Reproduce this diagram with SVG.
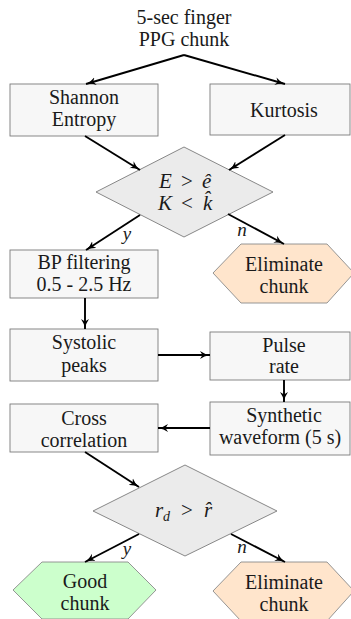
<svg xmlns="http://www.w3.org/2000/svg" width="351" height="619" viewBox="0 0 351 619" font-family="'Liberation Serif','DejaVu Serif',serif">
<style>
text{font-family:"Liberation Serif","DejaVu Serif",serif;font-size:20px;fill:#1a1a1a;text-anchor:middle}
.lbl{font-style:italic;font-size:19px}
.m{font-style:italic;text-anchor:start;font-size:21px}
.o{text-anchor:start;font-size:21px}
.box{fill:#f7f7f7;stroke:#7a7a7a;stroke-width:0.9}
.dia{fill:#ebebeb;stroke:#7a7a7a;stroke-width:0.9}
.bad{fill:#ffe5cc;stroke:#8a8a8a;stroke-width:0.9}
.good{fill:#ccffcc;stroke:#8a8a8a;stroke-width:0.9}
.arr{stroke:#000;stroke-width:1.9;fill:none;marker-end:url(#ah)}
</style>
<defs>
<marker id="ah" markerUnits="userSpaceOnUse" markerWidth="11" markerHeight="11" viewBox="0 0 11 11" refX="10" refY="5.5" orient="auto">
<path d="M0,1.5 Q4,4.5 10,5.5 Q4,6.5 0,9.5 L2.5,5.5 Z" fill="#000"/>
</marker>
</defs>
<g id="start">
<text x="184" y="24">5-sec finger</text>
<text x="184" y="46">PPG chunk</text>
</g>
<g id="shannon">
<rect class="box" x="10" y="84" width="148" height="52"/>
<text x="84" y="104">Shannon</text>
<text x="84" y="126">Entropy</text>
</g>
<g id="kurtosis">
<rect class="box" x="210" y="84" width="140" height="51"/>
<text x="284" y="117">Kurtosis</text>
</g>
<g id="decision1">
<polygon class="dia" points="184,147 273,192 184,237 96,192"/>
<text class="m" x="159" y="188">E</text>
<text class="o" x="181" y="188">&gt;</text>
<text class="m" x="202" y="188">ê</text>
<text class="m" x="158" y="210">K</text>
<text class="o" x="181" y="210">&lt;</text>
<text class="m" x="203" y="210">k̂</text>
</g>
<g id="bp">
<rect class="box" x="10" y="250" width="148" height="48"/>
<text x="84" y="269">BP filtering</text>
<text x="84" y="291">0.5 - 2.5 Hz</text>
</g>
<g id="elim1">
<polygon class="bad" points="241,244 327,244 354,273 327,303 241,303 213,273"/>
<text x="284" y="271">Eliminate</text>
<text x="284" y="293">chunk</text>
</g>
<g id="systolic">
<rect class="box" x="10" y="329" width="148" height="52"/>
<text x="84" y="349">Systolic</text>
<text x="84" y="372">peaks</text>
</g>
<g id="pulse">
<rect class="box" x="210" y="332" width="140" height="48"/>
<text x="284" y="352">Pulse</text>
<text x="284" y="373">rate</text>
</g>
<g id="synthetic">
<rect class="box" x="210" y="402" width="140" height="53"/>
<text x="284" y="422">Synthetic</text>
<text x="280" y="444">waveform (5 s)</text>
</g>
<g id="cross">
<rect class="box" x="10" y="404" width="148" height="48"/>
<text x="84" y="425">Cross</text>
<text x="84" y="447">correlation</text>
</g>
<g id="decision2">
<polygon class="dia" points="185,465 277,511 185,556 93,511"/>
<text class="m" x="155" y="517">r</text>
<text class="m" x="163" y="521" style="font-size:14px">d</text>
<text class="o" x="181" y="517">&gt;</text>
<text class="m" x="204" y="517">r̂</text>
</g>
<g id="good">
<polygon class="good" points="42,562 128,562 156,590 128,619 42,619 13,590"/>
<text x="85" y="588">Good</text>
<text x="85" y="610">chunk</text>
</g>
<g id="elim2">
<polygon class="bad" points="241,562 327,562 354,591 327,621 241,621 213,591"/>
<text x="284" y="589">Eliminate</text>
<text x="284" y="611">chunk</text>
</g>
<g id="connectors">
<line class="arr" x1="184" y1="55" x2="86" y2="84"/>
<line class="arr" x1="184" y1="55" x2="285" y2="84"/>
<line class="arr" x1="85" y1="136" x2="140" y2="170"/>
<line class="arr" x1="285" y1="135" x2="229" y2="170"/>
<line class="arr" x1="140" y1="215" x2="86" y2="250"/>
<line class="arr" x1="228" y1="214" x2="284" y2="244"/>
<line class="arr" x1="85" y1="298" x2="85" y2="329"/>
<line class="arr" x1="158" y1="355" x2="210" y2="355"/>
<line class="arr" x1="284" y1="380" x2="284" y2="402"/>
<line class="arr" x1="210" y1="428" x2="158" y2="428"/>
<line class="arr" x1="85" y1="452" x2="139" y2="487"/>
<line class="arr" x1="139" y1="534" x2="85" y2="562"/>
<line class="arr" x1="231" y1="534" x2="285" y2="562"/>
<text class="lbl" x="127" y="240">y</text>
<text class="lbl" x="242" y="236">n</text>
<text class="lbl" x="127" y="555">y</text>
<text class="lbl" x="242" y="553">n</text>
</g>
</svg>
